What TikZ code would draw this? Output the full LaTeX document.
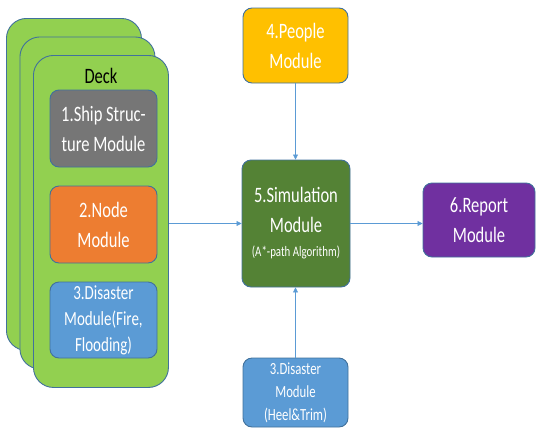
\documentclass[tikz,border=0pt]{standalone}
\usepackage{fontspec}
\setmainfont{Carlito}
\newfontfamily\modfont[FakeStretch=0.75]{Carlito}
\usetikzlibrary{arrows.meta}
\definecolor{deckgreen}{HTML}{92D050}
\definecolor{edgeblue}{HTML}{41719C}
\definecolor{mgray}{HTML}{767676}
\definecolor{morange}{HTML}{ED7D31}
\definecolor{mblue}{HTML}{5B9BD5}
\definecolor{myellow}{HTML}{FFC000}
\definecolor{mgreen}{HTML}{548235}
\definecolor{mpurple}{HTML}{7030A0}
\tikzset{
  card/.style={draw=edgeblue, line width=0.9pt, fill=deckgreen, rounded corners=20pt,
    minimum width=135pt, minimum height=332pt, anchor=north west, inner sep=0pt},
  modbox/.style={draw=edgeblue, line width=0.9pt, rounded corners=9pt, text=white,
    align=center, font=\modfont\fontsize{22}{30}\selectfont, inner sep=0pt},
  arr/.style={draw=mblue, line width=0.7pt, -{Triangle[length=5pt,width=5pt]}},
}
\begin{document}
\begin{tikzpicture}[x=1pt,y=-1pt]
\useasboundingbox (0,0) rectangle (537,434);
\node[card] (back) at (6,18) {};
\node[card] (middle) at (19.5,36.5) {};
\node[card] (front) at (33,55) {};
\node[font=\modfont\fontsize{22}{26}\selectfont] (deck) at (101,76) {Deck};
\node[modbox, fill=mgray, minimum width=107pt, minimum height=77pt] (ship) at (103.5,128.5) {1.Ship Struc-\\ture Module};
\node[modbox, fill=morange, minimum width=107pt, minimum height=77pt] (node) at (103.5,224.5) {2.Node\\Module};
\node[modbox, fill=mblue, minimum width=107pt, minimum height=76pt, font=\modfont\fontsize{20}{26}\selectfont] (fire) at (103.5,320) {3.Disaster\\Module(Fire,\\Flooding)};
\node[modbox, fill=mgreen, minimum width=108pt, minimum height=127pt] (sim) at (296,223.5) {5.Simulation\\Module\\[-6pt]{\fontsize{14.5}{16}\selectfont (A*-path Algorithm)}};
\node[modbox, fill=myellow, minimum width=105pt, minimum height=75pt] (people) at (295.5,45.5) {4.People\\Module};
\node[modbox, fill=mblue, minimum width=105pt, minimum height=69pt, font=\modfont\fontsize{17}{23}\selectfont] (heel) at (295.5,392.5) {3.Disaster\\Module\\(Heel\&Trim)};
\node[modbox, fill=mpurple, minimum width=112pt, minimum height=74pt] (report) at (479,220) {6.Report\\Module};
\draw[arr] (front.east |- sim.west) -- (sim.west);
\draw[arr] (sim.east) -- (sim.east -| report.west);
\draw[arr] (people.south) -- (people.south |- sim.north);
\draw[arr] (heel.north) -- (heel.north |- sim.south);
\end{tikzpicture}
\end{document}
